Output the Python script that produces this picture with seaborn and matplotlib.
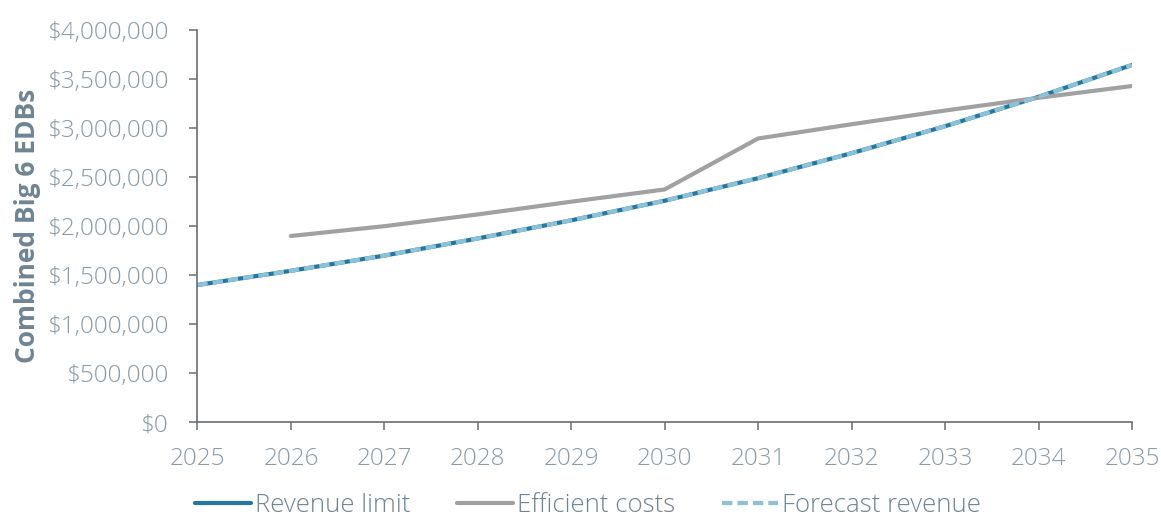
import pandas as pd
import numpy as np
import seaborn as sns
import matplotlib.pyplot as plt
from matplotlib.ticker import FuncFormatter

years = [2025, 2026, 2027, 2028, 2029, 2030, 2031, 2032, 2033, 2034, 2035]
revenue_limit = [1400000, 1545000, 1700000, 1875000, 2060000, 2260000, 2490000, 2745000, 3020000, 3320000, 3645000]
efficient_costs = [np.nan, 1900000, 2000000, 2120000, 2250000, 2375000, 2895000, 3040000, 3180000, 3310000, 3430000]
forecast_revenue = [1400000, 1545000, 1700000, 1875000, 2060000, 2260000, 2490000, 2745000, 3020000, 3320000, 3645000]

df = pd.DataFrame({'Year': years, 'Revenue limit': revenue_limit,
                   'Efficient costs': efficient_costs, 'Forecast revenue': forecast_revenue})

sns.set_style('white')
plt.rcParams['font.family'] = ['Open Sans', 'DejaVu Sans']
txt = '#8a9ba8'

fig, ax = plt.subplots(figsize=(11.61, 5.2), dpi=100)
fig.subplots_adjust(left=0.17, right=0.975, top=0.942, bottom=0.188)

sns.lineplot(data=df, x='Year', y='Revenue limit', ax=ax, color='#2377a0', lw=3, label='Revenue limit')
sns.lineplot(data=df, x='Year', y='Efficient costs', ax=ax, color='#a0a1a3', lw=3, label='Efficient costs')
sns.lineplot(data=df, x='Year', y='Forecast revenue', ax=ax, color='#8cc2d7', lw=3, ls=(0, (2.5, 1.2)), label='Forecast revenue')

ax.set_xlim(2025, 2035)
ax.set_ylim(0, 4000000)
ax.set_xticks(years)
ax.set_yticks(np.arange(0, 4000001, 500000))
ax.yaxis.set_major_formatter(FuncFormatter(lambda v, p: f'${v:,.0f}'))
ax.set_xlabel('')
ax.set_ylabel('Combined Big 6 EDBs', fontsize=19, fontweight='bold', color='#6f8493', labelpad=4)

for s in ['top', 'right']:
    ax.spines[s].set_visible(False)
for s in ['left', 'bottom']:
    ax.spines[s].set_color('#6a6e72')
    ax.spines[s].set_linewidth(1.2)
ax.tick_params(axis='both', which='major', direction='out', length=6, width=1.1, color='#6a6e72',
               labelsize=17.5, labelcolor=txt, left=True, bottom=True)
ax.tick_params(axis='x', pad=12)
ax.tick_params(axis='y', pad=15)
for lbl in ax.get_xticklabels() + ax.get_yticklabels():
    lbl.set_fontweight('light')

leg = ax.legend(loc='upper center', bbox_to_anchor=(0.418, -0.14), ncol=3, frameon=False,
                prop={'size': 18.5, 'weight': 'light'}, handlelength=2.2, handletextpad=0.15,
                columnspacing=1.8, borderpad=0.1)
for t in leg.get_texts():
    t.set_color('#6f8493')

plt.savefig('out.png', dpi=100)
